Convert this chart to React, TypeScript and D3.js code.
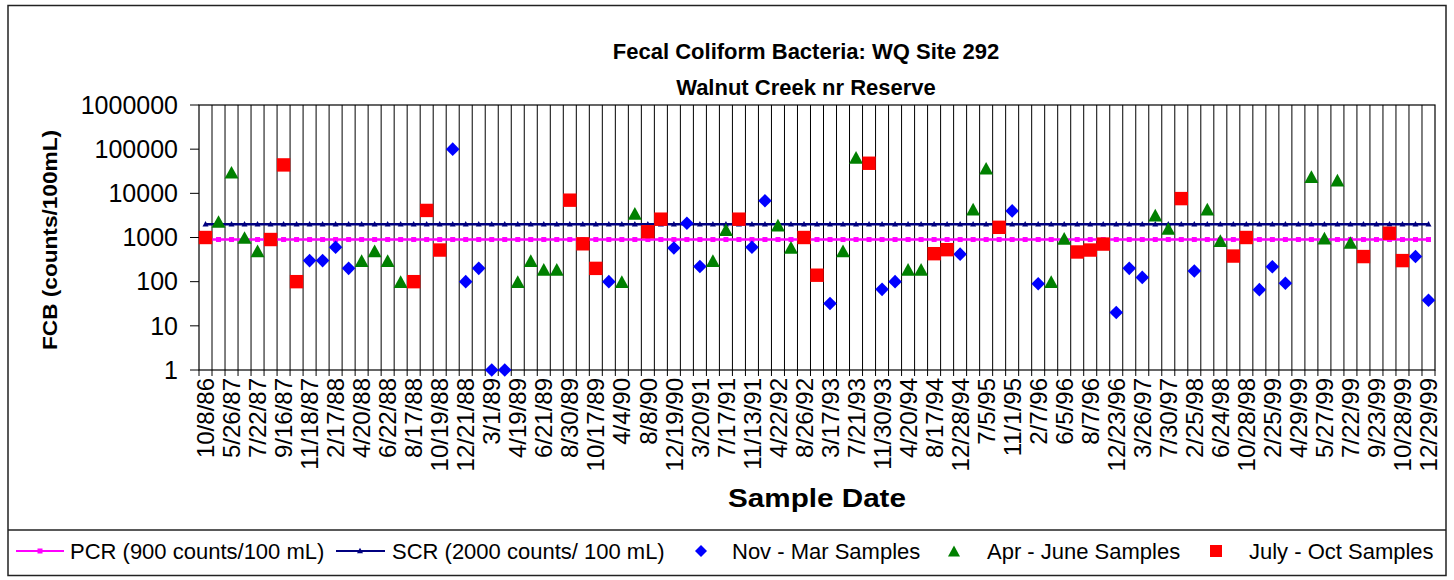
import React from 'react';
import * as d3 from 'd3';

// ---- Data ----
const dateLabels = [
  "10/8/86", "5/26/87", "7/22/87", "9/16/87", "11/18/87", "2/17/88", "4/20/88", "6/22/88",
  "8/17/88", "10/19/88", "12/21/88", "3/1/89", "4/19/89", "6/21/89", "8/30/89", "10/17/89",
  "4/4/90", "8/8/90", "12/19/90", "3/20/91", "7/17/91", "11/13/91", "4/22/92", "8/26/92",
  "3/17/93", "7/21/93", "11/30/93", "4/20/94", "8/17/94", "12/28/94", "7/5/95", "11/1/95",
  "2/7/96", "6/5/96", "8/7/96", "12/23/96", "3/26/97", "7/30/97", "2/25/98", "6/24/98",
  "10/28/98", "2/25/99", "4/29/99", "5/27/99", "7/22/99", "9/23/99", "10/28/99", "12/29/99",
];
const categoryCount = 95; // labels shown on every other sample date

const novMarIdx = [8, 9, 10, 11, 19, 20, 21, 22, 23, 31, 36, 37, 38, 42, 43, 48, 52, 53, 58, 62, 64, 70, 71, 72, 76, 81, 82, 83, 93, 94];
const novMarVal = [300, 300, 600, 200, 100000, 100, 200, 1, 1, 100, 580, 2100, 220, 600, 6800, 32, 67, 100, 420, 4000, 90, 20, 200, 125, 175, 66, 218, 92, 370, 38];

const aprJunIdx = [1, 2, 3, 4, 12, 13, 14, 15, 24, 25, 26, 27, 32, 33, 39, 40, 44, 45, 49, 50, 54, 55, 59, 60, 65, 66, 73, 74, 77, 78, 85, 86, 87, 88];
const aprJunVal = [2300, 30000, 1000, 500, 300, 500, 300, 100, 100, 300, 190, 190, 100, 3500, 300, 1500, 1900, 600, 500, 65000, 190, 190, 4400, 37000, 100, 960, 3200, 1600, 4400, 850, 24000, 970, 20000, 770];

const julOctIdx = [0, 5, 6, 7, 16, 17, 18, 28, 29, 30, 34, 35, 41, 46, 47, 51, 56, 57, 61, 67, 68, 69, 75, 79, 80, 89, 91, 92];
const julOctVal = [1000, 900, 44000, 100, 100, 4100, 520, 7000, 720, 200, 1350, 2600, 2600, 1000, 140, 48000, 430, 530, 1700, 470, 520, 710, 7600, 380, 1000, 370, 1250, 300];

const pcrLimit = 900;
const scrLimit = 2000;
const yTicks = [1, 10, 100, 1000, 10000, 100000, 1000000];

const seriesNames = ["PCR (900 counts/100 mL)", "SCR (2000 counts/ 100 mL)", "Nov - Mar Samples", "Apr - June Samples", "July - Oct Samples"];

// ---- Layout ----
const W = 1454, H = 580;
const plot = { left: 199, right: 1435, top: 105, bottom: 370 };
const FONT = "'Liberation Sans', Arial, Helvetica, sans-serif";

const diamond = (s: number) => `M0,${-s}L${s},0L0,${s}L${-s},0Z`;
const triangle = (w: number, h: number) => `M0,${-h / 2}L${w / 2},${h / 2}L${-w / 2},${h / 2}Z`;

export default function App() {
  const cats = d3.range(categoryCount);
  const x = d3.scaleBand<number>().domain(cats).range([plot.left, plot.right]).padding(0);
  const bw = x.bandwidth();
  const cx = (i: number) => (x(i) as number) + bw / 2;
  const y = d3.scaleLog().domain([1, 1e6]).range([plot.bottom, plot.top]);

  const pcrPath = d3.line<number>().x((i) => cx(i)).y(() => y(pcrLimit))(cats) as string;
  const scrPath = d3.line<number>().x((i) => cx(i)).y(() => y(scrLimit))(cats) as string;

  const titleX = 806;

  return (
    <svg width={W} height={H} style={{ position: 'absolute', left: 0, top: 0, background: '#fff' }} fontFamily={FONT}>
      <rect x={0} y={0} width={W} height={H} fill="#fff" />
      {/* chart border */}
      <rect x={8} y={5.5} width={1438} height={570} fill="none" stroke="#222" strokeWidth={1.5} />
      <line x1={8} x2={1446} y1={530} y2={530} stroke="#222" strokeWidth={1.5} />

      {/* title */}
      <text x={titleX} y={59} textAnchor="middle" fontSize={22} fontWeight="bold">Fecal Coliform Bacteria: WQ Site 292</text>
      <text x={titleX} y={95} textAnchor="middle" fontSize={22} fontWeight="bold">Walnut Creek nr Reserve</text>

      {/* vertical gridlines at category boundaries */}
      {cats.slice(1).map((i) => (
        <line key={'g' + i} x1={x(i)} x2={x(i)} y1={plot.top} y2={plot.bottom} stroke="#000" strokeWidth={1} />
      ))}
      {/* x ticks */}
      {d3.range(categoryCount + 1).map((i) => {
        const xx = i < categoryCount ? (x(i) as number) : plot.right;
        return <line key={'xt' + i} x1={xx} x2={xx} y1={plot.bottom} y2={plot.bottom + 6} stroke="#000" strokeWidth={1} />;
      })}
      {/* plot border */}
      <rect x={plot.left} y={plot.top} width={plot.right - plot.left} height={plot.bottom - plot.top} fill="none" stroke="#000" strokeWidth={1.2} />

      {/* y ticks & labels */}
      {yTicks.map((t) => (
        <g key={'yt' + t}>
          <line x1={plot.left - 9} x2={plot.left} y1={y(t)} y2={y(t)} stroke="#000" strokeWidth={1} />
          <text x={178} y={y(t)} dy="0.35em" textAnchor="end" fontSize={25}>{t}</text>
        </g>
      ))}
      <text transform={`translate(57,240) rotate(-90)`} textAnchor="middle" fontSize={21} fontWeight="bold"
        textLength={220} lengthAdjust="spacingAndGlyphs">FCB (counts/100mL)</text>

      {/* x labels */}
      {dateLabels.map((lab, k) => {
        const i = k * 2;
        return (
          <text key={'xl' + k} transform={`translate(${cx(i)},${378}) rotate(-90)`} textAnchor="end" dy="0.36em" fontSize={24}>{lab}</text>
        );
      })}
      <text x={(plot.left + plot.right) / 2} y={507} textAnchor="middle" fontSize={26} fontWeight="bold"
        textLength={178} lengthAdjust="spacingAndGlyphs">Sample Date</text>

      {/* limit lines */}
      <path d={pcrPath} fill="none" stroke="#FF00FF" strokeWidth={2.5} />
      {cats.map((i) => (
        <rect key={'pm' + i} x={cx(i) - 2.5} y={y(pcrLimit) - 2.5} width={5} height={5} fill="#FF00FF" />
      ))}
      <path d={scrPath} fill="none" stroke="#000080" strokeWidth={2.5} />
      {cats.map((i) => (
        <path key={'sm' + i} transform={`translate(${cx(i)},${y(scrLimit) - 0.5})`} d={triangle(6, 5.5)} fill="#000080" />
      ))}

      {/* sample series */}
      {novMarIdx.map((i, k) => (
        <path key={'nm' + i} transform={`translate(${cx(i)},${y(novMarVal[k])})`} d={diamond(6.8)} fill="#0000FF" />
      ))}
      {aprJunIdx.map((i, k) => (
        <path key={'aj' + i} transform={`translate(${cx(i)},${y(aprJunVal[k])})`} d={triangle(14, 12.7)} fill="#008000" />
      ))}
      {julOctIdx.map((i, k) => (
        <rect key={'jo' + i} x={cx(i) - 6.7} y={y(julOctVal[k]) - 6.7} width={13.4} height={13.4} fill="#FF0000" />
      ))}

      {/* legend */}
      <g fontSize={22}>
        <line x1={16} x2={64} y1={551} y2={551} stroke="#FF00FF" strokeWidth={2} />
        <rect x={37.5} y={548.5} width={5} height={5} fill="#FF00FF" />
        <text x={70} y={551} dy="0.35em">{seriesNames[0]}</text>

        <line x1={336} x2={385} y1={551} y2={551} stroke="#000080" strokeWidth={2} />
        <path transform="translate(360,550.5)" d={triangle(6, 5.5)} fill="#000080" />
        <text x={392} y={551} dy="0.35em">{seriesNames[1]}</text>

        <path transform="translate(701,551)" d={diamond(6)} fill="#0000FF" />
        <text x={732} y={551} dy="0.35em">{seriesNames[2]}</text>

        <path transform="translate(954,551)" d={triangle(12, 11)} fill="#008000" />
        <text x={987} y={551} dy="0.35em">{seriesNames[3]}</text>

        <rect x={1210} y={545} width={12} height={12} fill="#FF0000" />
        <text x={1249} y={551} dy="0.35em">{seriesNames[4]}</text>
      </g>
    </svg>
  );
}
